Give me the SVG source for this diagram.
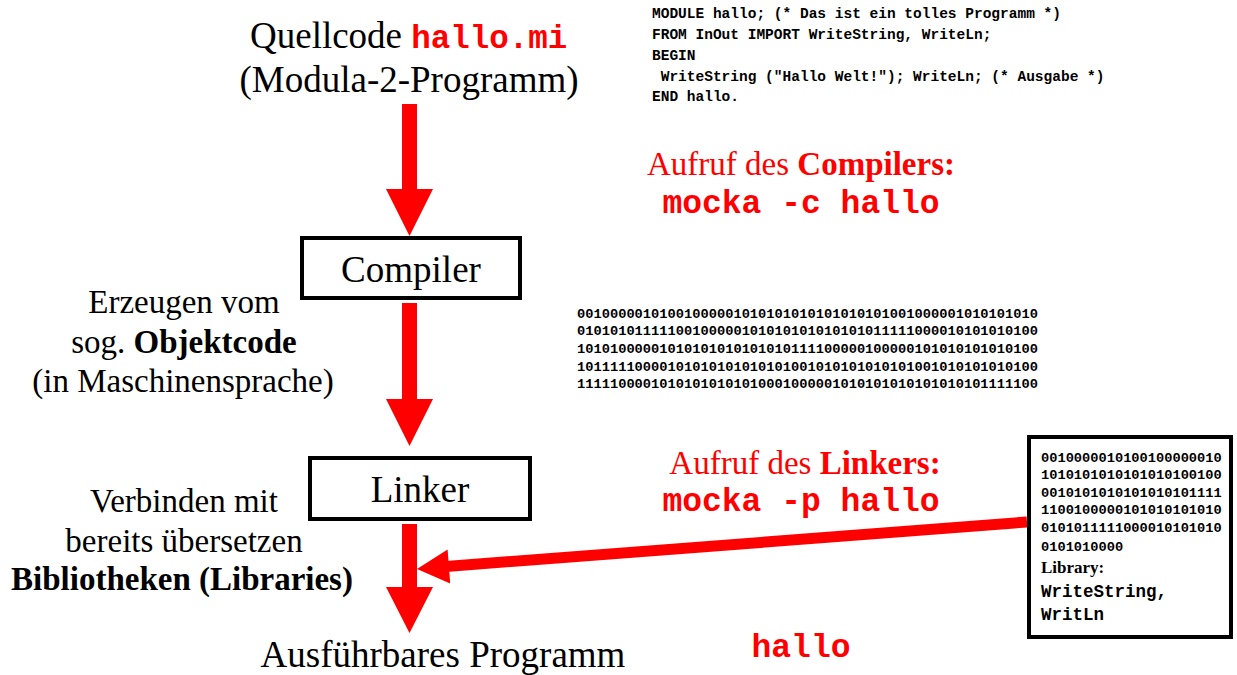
<svg xmlns="http://www.w3.org/2000/svg" width="1237" height="675" viewBox="0 0 1237 675">
<style>
.serif{font-family:"Liberation Serif","Times New Roman",serif;fill:#000}
.big{font-size:37px}
.mid{font-size:33px}
.mono{font-family:"Liberation Mono","Courier New",monospace;font-weight:bold}
.red{fill:#ff0000}
.b{font-weight:bold}
.box{fill:#fff;stroke:#000;stroke-width:4}
.code{font-size:14.5px;fill:#000}
.bin{font-size:13.7px;fill:#000}
.arrow{fill:#ff0000;stroke:none}
</style>
<rect width="1237" height="675" fill="#fff"/>

<g id="connectors">
<polygon class="arrow" points="402,104 417,104 417,189 433,189 409.5,236 386,189 402,189"/>
<polygon class="arrow" points="402,303 417,303 417,399 433,399 409.5,446 386,399 402,399"/>
<polygon class="arrow" points="402,524 417,524 417,587 433,587 409.5,633 386,587 402,587"/>
<line x1="1027" y1="522" x2="446" y2="566.5" stroke="#ff0000" stroke-width="11"/>
<polygon class="arrow" points="417,569 447.6,549.6 450.2,583.4"/>
</g>

<g id="source">
<text class="serif big" x="250" y="48">Quellcode <tspan class="mono red" font-size="32.5px">hallo.mi</tspan></text>
<text class="serif big" x="409" y="92" text-anchor="middle">(Modula-2-Programm)</text>
</g>

<g id="code">
<text class="mono code" x="652" y="18">MODULE hallo; (* Das ist ein tolles Programm *)</text>
<text class="mono code" x="652" y="39">FROM InOut IMPORT WriteString, WriteLn;</text>
<text class="mono code" x="652" y="60">BEGIN</text>
<text class="mono code" x="652" y="81" xml:space="preserve"> WriteString ("Hallo Welt!"); WriteLn; (* Ausgabe *)</text>
<text class="mono code" x="652" y="101">END hallo.</text>
</g>

<g id="compiler-call">
<text class="serif mid red" x="801" y="175" text-anchor="middle">Aufruf des <tspan class="b">Compilers:</tspan></text>
<text class="mono red" font-size="33px" x="801" y="213" text-anchor="middle">mocka -c hallo</text>
</g>

<g id="compiler">
<rect class="box" x="302" y="238" width="218" height="60"/>
<text class="serif big" x="411" y="282" text-anchor="middle">Compiler</text>
</g>

<g id="objectcode-label">
<text class="serif mid" x="184" y="313" text-anchor="middle">Erzeugen vom</text>
<text class="serif mid" x="184" y="353" text-anchor="middle">sog. <tspan class="b">Objektcode</tspan></text>
<text class="serif mid" x="183" y="392" text-anchor="middle">(in Maschinensprache)</text>
</g>

<g id="objectcode">
<text class="mono bin" x="577" y="318" textLength="461" lengthAdjust="spacingAndGlyphs">00100000101001000001010101010101010101001000001010101010</text>
<text class="mono bin" x="577" y="335" textLength="461" lengthAdjust="spacingAndGlyphs">01010101111100100000101010101010101011111000010101010100</text>
<text class="mono bin" x="577" y="353" textLength="461" lengthAdjust="spacingAndGlyphs">10101000001010101010101010111100000100000101010101010100</text>
<text class="mono bin" x="577" y="371" textLength="461" lengthAdjust="spacingAndGlyphs">10111110000101010101010101001010101010101001010101010100</text>
<text class="mono bin" x="577" y="388" textLength="461" lengthAdjust="spacingAndGlyphs">11111000010101010101010001000001010101010101010101111100</text>
</g>

<g id="linker-call">
<text class="serif mid red" x="805" y="474" text-anchor="middle">Aufruf des <tspan class="b">Linkers:</tspan></text>
<text class="mono red" font-size="33px" x="801" y="511" text-anchor="middle">mocka -p hallo</text>
</g>

<g id="linker">
<rect class="box" x="310" y="458" width="220" height="61"/>
<text class="serif big" x="420" y="502" text-anchor="middle">Linker</text>
</g>

<g id="library-label">
<text class="serif mid" x="184" y="512" text-anchor="middle">Verbinden mit</text>
<text class="serif mid" x="184" y="552" text-anchor="middle">bereits übersetzen</text>
<text class="serif mid b" x="182" y="590" text-anchor="middle">Bibliotheken (Libraries)</text>
</g>

<g id="library">
<rect class="box" x="1029" y="437" width="202" height="200"/>
<text class="mono bin" x="1041" y="462">0010000010100100000010</text>
<text class="mono bin" x="1041" y="479">1010101010101010100100</text>
<text class="mono bin" x="1041" y="497">0010101010101010101111</text>
<text class="mono bin" x="1041" y="514">1100100000101010101010</text>
<text class="mono bin" x="1041" y="532">0101011111000010101010</text>
<text class="mono bin" x="1041" y="551">0101010000</text>
<text class="serif b" font-size="17px" x="1041" y="573">Library:</text>
<text class="mono" font-size="17.5px" x="1041" y="597">WriteString,</text>
<text class="mono" font-size="17.5px" x="1041" y="620">WritLn</text>
</g>

<g id="executable">
<text class="serif big" x="443" y="667" text-anchor="middle">Ausführbares Programm</text>
<text class="mono red" font-size="33px" x="801" y="657" text-anchor="middle">hallo</text>
</g>
</svg>
